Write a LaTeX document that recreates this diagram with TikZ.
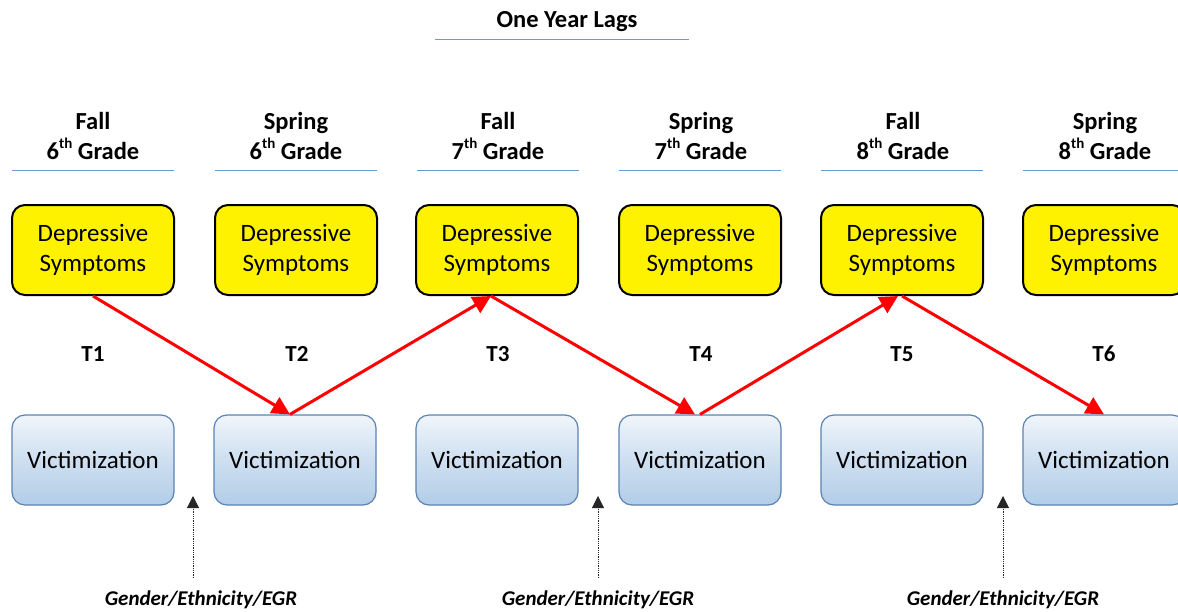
\documentclass[tikz,border=0pt]{standalone}
\usepackage{fontspec}
\setmainfont{Carlito}
\usetikzlibrary{arrows.meta,calc}
\definecolor{vborder}{HTML}{5A83B3}
\definecolor{vtop}{HTML}{F0F5FB}
\definecolor{vbot}{HTML}{B2CDE8}
\definecolor{hline}{HTML}{6A9BD3}
\tikzset{
  dsbox/.style={draw=black, line width=2pt, fill=yellow, rounded corners=13pt,
    minimum width=162pt, minimum height=90pt, align=center,
    font=\fontsize{25}{30}\selectfont, inner sep=0pt},
  vbox/.style={draw=vborder, line width=1.2pt, rounded corners=13pt,
    top color=vtop, bottom color=vbot, middle color=vbot!55!vtop,
    minimum width=162pt, minimum height=90pt, align=center,
    font=\fontsize{25}{30}\selectfont, inner sep=0pt},
  head/.style={align=center, font=\bfseries\fontsize{24.5}{30}\selectfont, inner sep=0pt},
  tlabel/.style={font=\bfseries\fontsize{23}{26}\selectfont, inner sep=0pt},
  cov/.style={font=\bfseries\itshape\fontsize{21}{24}\selectfont, inner sep=0pt},
  redarrow/.style={draw=red, line width=3pt, -{Triangle[length=18pt,width=18pt]}},
  dotarrow/.style={draw=black!85, line width=0.8pt, densely dotted, -{Triangle[length=12pt,width=12pt]}},
  uline/.style={draw=hline, line width=0.9pt}
}
\newcommand{\thsup}{\raisebox{0.45em}{\fontsize{15}{15}\selectfont th}}
\newcommand{\dstext}{\raisebox{-3pt}{\begin{tabular}{@{}c@{}}Depressive\\Symptoms\end{tabular}}}
\begin{document}
\begin{tikzpicture}[x=1pt,y=-1pt]
\useasboundingbox (0,0) rectangle (1178,611);
\clip (0,0) rectangle (1178,611);
% title
\node[head] (title) at (567,22) {One Year Lags};
\draw[uline] (435,39) -- (689,39);
% headers
\node[head] (h1) at (93,136) {Fall\\6\thsup{} Grade};
\node[head] (h2) at (296,136) {Spring\\6\thsup{} Grade};
\node[head] (h3) at (498,136) {Fall\\7\thsup{} Grade};
\node[head] (h4) at (701,136) {Spring\\7\thsup{} Grade};
\node[head] (h5) at (903,136) {Fall\\8\thsup{} Grade};
\node[head] (h6) at (1105,136) {Spring\\8\thsup{} Grade};
\foreach \x in {93,296,498,700,902,1104}{
  \draw[uline] (\x-81,170) -- (\x+81,170);
}
% depressive symptoms boxes
\node[dsbox] (d1) at (93,250) {\dstext};
\node[dsbox] (d2) at (296,250) {\dstext};
\node[dsbox] (d3) at (497,250) {\dstext};
\node[dsbox] (d4) at (700,250) {\dstext};
\node[dsbox] (d5) at (902,250) {\dstext};
\node[dsbox] (d6) at (1104,250) {\dstext};
% T labels
\node[tlabel] (t1) at (93,354) {T1};
\node[tlabel] (t2) at (297,354) {T2};
\node[tlabel] (t3) at (498,354) {T3};
\node[tlabel] (t4) at (701,354) {T4};
\node[tlabel] (t5) at (902,354) {T5};
\node[tlabel] (t6) at (1104,354) {T6};
% victimization boxes
\node[vbox] (v1) at (93,460) {Victimization};
\node[vbox] (v2) at (295,460) {Victimization};
\node[vbox] (v3) at (497,460) {Victimization};
\node[vbox] (v4) at (700,460) {Victimization};
\node[vbox] (v5) at (902,460) {Victimization};
\node[vbox] (v6) at (1104,460) {Victimization};
% red arrows
\draw[redarrow] (d1.south) -- ([xshift=-5pt]v2.north);
\draw[redarrow] ([xshift=-5pt]v2.north) -- ([xshift=-6pt]d3.south);
\draw[redarrow] ([xshift=-6pt]d3.south) -- ([xshift=-5pt]v4.north);
\draw[redarrow] (v4.north) -- ([xshift=-4pt]d5.south);
\draw[redarrow] (d5.south) -- (v6.north);
% covariates
\node[cov] (c1) at (201,600) {Gender/Ethnicity/EGR};
\node[cov] (c2) at (598,600) {Gender/Ethnicity/EGR};
\node[cov] (c3) at (1003,600) {Gender/Ethnicity/EGR};
\coordinate (s1) at (193,578); \coordinate (e1) at (193,496);
\coordinate (s2) at (598,578); \coordinate (e2) at (598,496);
\coordinate (s3) at (1003,578); \coordinate (e3) at (1003,496);
\draw[dotarrow] (s1) -- (e1);
\draw[dotarrow] (s2) -- (e2);
\draw[dotarrow] (s3) -- (e3);
\end{tikzpicture}
\end{document}
